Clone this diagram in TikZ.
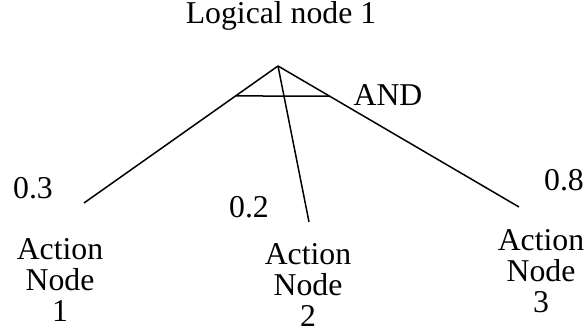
\documentclass[tikz,border=0pt]{standalone}
\usepackage{fontspec}
\setmainfont{Liberation Serif}
\usetikzlibrary{calc}

\tikzset{
	txt/.style={inner sep=0pt, font=\fontsize{12.7}{12.3}\selectfont},
	leaf/.style={txt, align=center}
}

\begin{document}
\begin{tikzpicture}[x=0.4pt,y=-0.4pt,line width=0.6pt]
	\useasboundingbox (0,0) rectangle (586,330);
	
	\node[txt] (logic) at (281,16) {Logical node 1};
	\coordinate (top) at (278,66);
	
	\coordinate (e1) at (84,203);
	\coordinate (e2) at (309,222);
	\coordinate (e3) at (519,207);
	
	\draw (top) -- (e1);
	\draw (top) -- (e2);
	\draw (top) -- (e3);
	\draw ($(top)!0.219!(e1)$) -- ($(top)!0.213!(e3)$);
	
	\node[txt] (and) at (388,95) {AND};
	
	\node[txt] (w1) at (33,188) {0.3};
	\node[txt] (w2) at (249,207) {0.2};
	\node[txt] (w3) at (564,180) {0.8};
	
	\node[leaf] (act1) at (60,280) {Action\\Node\\1};
	\node[leaf] (act2) at (308,285) {Action\\Node\\2};
	\node[leaf] (act3) at (541,271) {Action\\Node\\3};
\end{tikzpicture}
\end{document}
